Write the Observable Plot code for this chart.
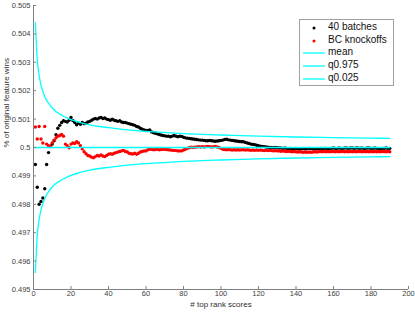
<!DOCTYPE html>
<html>
<head>
<meta charset="utf-8">
<script src="https://cdn.jsdelivr.net/npm/d3@7"></script>
<script src="https://cdn.jsdelivr.net/npm/@observablehq/plot@0.6"></script>
<style>
  body { margin: 0; background: #fff; }
  #wrap { position: relative; width: 415px; height: 312px; font-family: "Liberation Sans", Arial, sans-serif; }
  #legend { position: absolute; left: 299px; top: 19px; width: 93px; height: 65px; border: 1px solid #a0a0a0; background: #fff; }
  .item { position: absolute; left: 0; height: 12px; width: 93px; font-size: 10px; color: #111; }
  .item span { position: absolute; left: 28px; top: -1px; white-space: nowrap; }
  .item svg { position: absolute; left: 0; top: 0; }
</style>
</head>
<body>
<div id="wrap"></div>
<script>
// x positions: # top rank scores
const ranks = d3.range(1, 191);

// 40 batches (black dots)
const batches40 = [
0.49940,0.49860,0.49800,0.49810,0.49822,0.49855,0.49940,0.49982,0.50005,0.50012,
0.50024,0.50045,0.50068,0.50078,0.50088,0.50094,0.50092,0.50090,0.50096,0.50106,
0.50095,0.50088,0.50080,0.50086,0.50082,0.50088,0.50084,0.50086,0.50090,0.50092,
0.50096,0.50100,0.50102,0.50100,0.50104,0.50106,0.50102,0.50104,0.50100,0.50098,
0.50096,0.50100,0.50096,0.50094,0.50092,0.50094,0.50090,0.50088,0.50088,0.50086,
0.50084,0.50082,0.50080,0.50078,0.50074,0.50072,0.50068,0.50064,0.50062,0.50060,
0.50060,0.50062,0.50055,0.50052,0.50050,0.50048,0.50046,0.50044,0.50042,0.50041,
0.50040,0.50040,0.50038,0.50040,0.50042,0.50040,0.50038,0.50040,0.50039,0.50036,
0.50034,0.50033,0.50032,0.50031,0.50030,0.50029,0.50028,0.50027,0.50026,0.50026,
0.50025,0.50024,0.50024,0.50025,0.50024,0.50023,0.50022,0.50023,0.50024,0.50025,
0.50026,0.50028,0.50029,0.50027,0.50026,0.50025,0.50024,0.50023,0.50022,0.50021,
0.50020,0.50020,0.50018,0.50016,0.50014,0.50012,0.50011,0.50010,0.50008,0.50006,
0.50005,0.50004,0.50003,0.50002,0.50001,0.50000,0.50000,0.49999,0.50000,0.49999,
0.49998,0.49998,0.49997,0.49998,0.49997,0.49996,0.49997,0.49996,0.49996,0.49997,
0.49996,0.49995,0.49996,0.49996,0.49995,0.49996,0.49997,0.49996,0.49996,0.49995,
0.49996,0.49996,0.49997,0.49996,0.49997,0.49997,0.49996,0.49997,0.49997,0.49998,
0.49997,0.49997,0.49998,0.49997,0.49997,0.49998,0.49998,0.49997,0.49998,0.49998,
0.49997,0.49998,0.49998,0.49997,0.49998,0.49997,0.49997,0.49998,0.49998,0.49997,
0.49997,0.49998,0.49997,0.49997,0.49996,0.49997,0.49997,0.49998,0.49997,0.49997
];

// BC knockoffs (red dots)
const bcKnockoffs = [
0.50072,0.50030,0.50074,0.50030,0.50016,0.50074,0.50012,0.50006,0.50004,0.50016,
0.50026,0.50034,0.50040,0.50042,0.50046,0.50040,0.50012,0.50006,0.49999,0.50012,
0.50016,0.50014,0.50020,0.50016,0.50006,0.49995,0.49985,0.49978,0.49972,0.49970,
0.49966,0.49964,0.49968,0.49972,0.49970,0.49974,0.49970,0.49968,0.49972,0.49976,
0.49978,0.49976,0.49980,0.49982,0.49984,0.49986,0.49988,0.49990,0.49986,0.49984,
0.49980,0.49978,0.49977,0.49980,0.49976,0.49980,0.49984,0.49986,0.49988,0.49988,
0.49992,0.49994,0.49994,0.49992,0.49993,0.49994,0.49992,0.49993,0.49994,0.49994,
0.49993,0.49992,0.49991,0.49990,0.49990,0.49989,0.49988,0.49988,0.49988,0.49991,
0.49994,0.49997,0.49999,0.50001,0.50000,0.50001,0.50002,0.50003,0.50002,0.50003,
0.50002,0.50003,0.50004,0.50003,0.50002,0.50003,0.50004,0.50002,0.50000,0.49997,
0.49994,0.49993,0.49992,0.49993,0.49992,0.49991,0.49992,0.49991,0.49992,0.49991,
0.49992,0.49992,0.49991,0.49992,0.49991,0.49990,0.49991,0.49990,0.49991,0.49990,
0.49991,0.49990,0.49989,0.49990,0.49989,0.49990,0.49989,0.49988,0.49989,0.49988,
0.49988,0.49987,0.49988,0.49987,0.49986,0.49987,0.49986,0.49985,0.49986,0.49985,
0.49984,0.49985,0.49984,0.49983,0.49984,0.49983,0.49984,0.49983,0.49984,0.49985,
0.49984,0.49985,0.49986,0.49985,0.49986,0.49985,0.49986,0.49985,0.49986,0.49986,
0.49985,0.49986,0.49985,0.49986,0.49986,0.49985,0.49986,0.49985,0.49986,0.49985,
0.49986,0.49985,0.49986,0.49986,0.49985,0.49986,0.49985,0.49986,0.49985,0.49986,
0.49985,0.49986,0.49985,0.49986,0.49985,0.49986,0.49986,0.49985,0.49986,0.49985
];

// reference curves read at selected ranks
const curveRanks = [1,2,3,4,5,6,7,8,9,10,12,14,16,18,20,25,30,35,40,50,60,70,80,90,100,120,140,160,180,190];
const q975 = [0.50440,0.50311,0.50254,0.50220,0.50197,0.50180,0.50166,0.50156,0.50147,0.50139,0.50127,0.50118,0.50110,0.50104,0.50098,0.50088,0.50080,0.50074,0.50070,0.50062,0.50057,0.50053,0.50049,0.50046,0.50044,0.50040,0.50037,0.50035,0.50033,0.50032];
const q025 = [0.49560,0.49689,0.49746,0.49780,0.49803,0.49820,0.49834,0.49844,0.49853,0.49861,0.49873,0.49882,0.49890,0.49896,0.49902,0.49912,0.49920,0.49926,0.49930,0.49938,0.49943,0.49947,0.49951,0.49954,0.49956,0.49960,0.49963,0.49965,0.49967,0.49968];
const meanRanks = [0, 190];
const meanVals = [0.5, 0.5];

const xTicks = [0,20,40,60,80,100,120,140,160,180,200];
const yTicks = [0.495,0.496,0.497,0.498,0.499,0.5,0.501,0.502,0.503,0.504,0.505];

const legendLabels = ["40 batches","BC knockoffs","mean","q0.975","q0.025"];
const legendColors = ["#000000","#ff0000","#00ffff","#00ffff","#00ffff"];
const legendKinds = ["dot","dot","line","line","line"];

const black = ranks.map((r,i) => ({r, v: batches40[i]}));
const red = ranks.map((r,i) => ({r, v: bcKnockoffs[i]}));
const up = curveRanks.map((r,i) => ({r, v: q975[i]}));
const lo = curveRanks.map((r,i) => ({r, v: q025[i]}));
const mn = meanRanks.map((r,i) => ({r, v: meanVals[i]}));

const fmt = d => String(+d.toFixed(3));
const axisCol = "#808080";

const chart = Plot.plot({
  width: 415, height: 312,
  marginLeft: 33, marginRight: 7, marginTop: 5, marginBottom: 23,
  x: {domain: [0, 200]},
  y: {domain: [0.495, 0.505]},
  style: {fontFamily: "'Liberation Sans', Arial, sans-serif", fontSize: "7.5px", color: "#404040", background: "#fff"},
  marks: [
    Plot.dot(black, {x: "r", y: "v", r: 1.7, fill: "#000", stroke: null}),
    Plot.dot(red, {x: "r", y: "v", r: 1.7, fill: "#ff0000", stroke: null}),
    Plot.line(mn, {x: "r", y: "v", stroke: "#00ffff", strokeWidth: 1.5}),
    Plot.line(up, {x: "r", y: "v", stroke: "#00ffff", strokeWidth: 1.3, curve: "monotone-x"}),
    Plot.line(lo, {x: "r", y: "v", stroke: "#00ffff", strokeWidth: 1.3, curve: "monotone-x"}),
    Plot.ruleX([0], {stroke: axisCol}),
    Plot.ruleY([0.495], {stroke: axisCol}),
    Plot.axisX({ticks: xTicks, tickSize: -3, tickFormat: () => "", label: null, stroke: axisCol}),
    Plot.axisY({ticks: yTicks, tickSize: -3, tickFormat: () => "", label: null, stroke: axisCol}),
    Plot.axisX({ticks: xTicks, tickSize: 0, tickPadding: 1, tickFormat: fmt, label: null, fill: "#404040"}),
    Plot.axisY({ticks: yTicks, tickSize: 0, tickPadding: 3, tickFormat: fmt, label: null, fill: "#404040"}),
    Plot.text(["# top rank scores"], {frameAnchor: "bottom", dy: 15, fontSize: 8, fill: "#303030", lineAnchor: "middle"}),
    Plot.text(["% of original feature wins"], {frameAnchor: "left", dx: -27, rotate: -90, fontSize: 8, fill: "#303030"})
  ]
});

const wrap = document.getElementById("wrap");
wrap.appendChild(chart);

const legend = document.createElement("div");
legend.id = "legend";
legendLabels.forEach((lab, i) => {
  const it = document.createElement("div");
  it.className = "item";
  it.style.top = (2 + i * 12.7) + "px";
  const svg = legendKinds[i] === "dot"
    ? `<svg width="28" height="12"><circle cx="14" cy="6" r="1.5" fill="${legendColors[i]}"/></svg>`
    : `<svg width="28" height="12"><line x1="3" x2="25" y1="6" y2="6" stroke="${legendColors[i]}" stroke-width="1.3"/></svg>`;
  it.innerHTML = svg + `<span>${lab}</span>`;
  legend.appendChild(it);
});
wrap.appendChild(legend);
</script>
</body>
</html>
